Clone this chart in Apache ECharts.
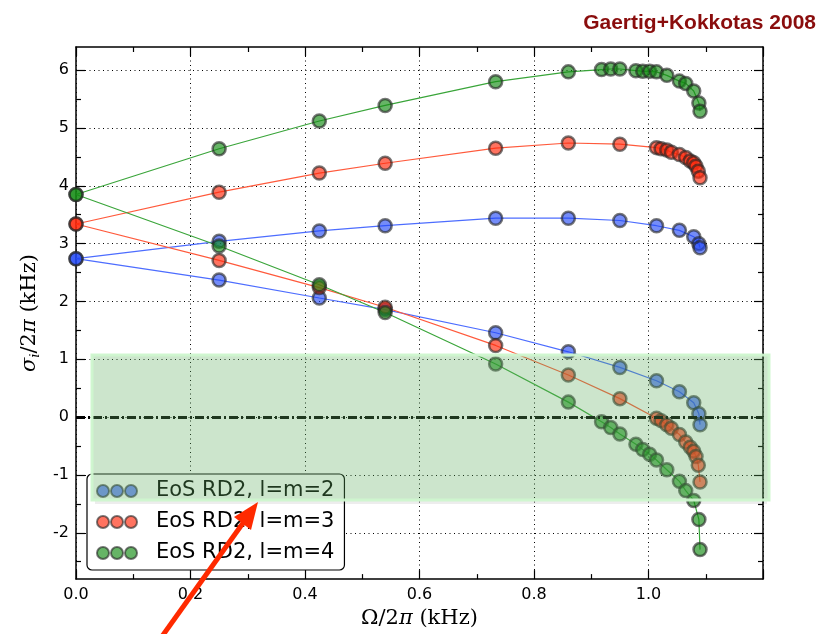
<!DOCTYPE html>
<html>
<head>
<meta charset="utf-8">
<script src="https://cdn.jsdelivr.net/npm/echarts@6/dist/echarts.min.js"></script>
<style>html,body{margin:0;padding:0;background:#fff;}#c{width:838px;height:634px;}</style>
</head>
<body>
<div id="c"></div>
<script>
// ---- data ----
const seriesNames = ['EoS RD2, l=m=2', 'EoS RD2, l=m=3', 'EoS RD2, l=m=4'];

const blueX     = [0, 0.25, 0.425, 0.54, 0.733, 0.86, 0.95, 1.014, 1.054, 1.079, 1.088, 1.09];
const blueUpper = [2.74, 3.04, 3.22, 3.31, 3.44, 3.44, 3.40, 3.31, 3.23, 3.12, 3.00, 2.93];
const blueLower = [2.74, 2.37, 2.06, 1.86, 1.46, 1.13, 0.86, 0.63, 0.44, 0.25, 0.06, -0.13];

const redX     = [0, 0.25, 0.425, 0.54, 0.733, 0.86, 0.95, 1.014, 1.022, 1.032, 1.04, 1.054, 1.065, 1.073, 1.079, 1.083, 1.087, 1.09];
const redUpper = [3.34, 3.89, 4.22, 4.39, 4.65, 4.74, 4.72, 4.66, 4.64, 4.62, 4.58, 4.54, 4.49, 4.43, 4.40, 4.34, 4.25, 4.14];
const redLower = [3.34, 2.71, 2.24, 1.90, 1.24, 0.73, 0.32, -0.02, -0.06, -0.13, -0.19, -0.30, -0.43, -0.52, -0.59, -0.68, -0.83, -1.12];

const greenX     = [0, 0.25, 0.425, 0.54, 0.733, 0.86, 0.918, 0.934, 0.95, 0.978, 0.99, 1.002, 1.014, 1.032, 1.054, 1.065, 1.079, 1.088, 1.09];
const greenUpper = [3.85, 4.64, 5.12, 5.39, 5.80, 5.97, 6.01, 6.02, 6.02, 5.99, 5.98, 5.98, 5.97, 5.91, 5.81, 5.77, 5.64, 5.43, 5.29];
const greenLower = [3.85, 2.96, 2.29, 1.81, 0.92, 0.26, -0.08, -0.18, -0.29, -0.47, -0.56, -0.64, -0.74, -0.91, -1.11, -1.27, -1.44, -1.77, -2.29];

const yMajorTicks = [-2, -1, 0, 1, 2, 3, 4, 5, 6];
const yMinorTicks = [-2.5, -1.5, -0.5, 0.5, 1.5, 2.5, 3.5, 4.5, 5.5];
const zeroLine = [0];

// ---- styling ----
const lineColors = ['#4d6dff', '#ff5a3c', '#3aa53a'];
const fillColors = ['rgba(30,70,245,0.62)', 'rgba(255,40,10,0.65)', 'rgba(20,140,20,0.65)'];
const edgeColor = 'rgba(35,35,35,0.62)';

const zip = (xs, ys) => xs.map((x, i) => [x, ys[i]]);
const branches = [
  [0, blueX, blueUpper], [0, blueX, blueLower],
  [1, redX, redUpper], [1, redX, redLower],
  [2, greenX, greenUpper], [2, greenX, greenLower]
];

const series = branches.map(([k, xs, ys]) => ({
  type: 'line',
  name: seriesNames[k],
  data: zip(xs, ys),
  symbol: 'circle',
  symbolSize: 13,
  lineStyle: { color: lineColors[k], width: 1.2 },
  itemStyle: { color: fillColors[k], borderColor: edgeColor, borderWidth: 2.5 },
  emphasis: { disabled: true },
  z: 3
}));

series.unshift({
  type: 'line',
  name: 'zero',
  data: [],
  silent: true,
  z: 2,
  markLine: {
    silent: true,
    symbol: ['none', 'none'],
    label: { show: false },
    lineStyle: { color: '#000', width: 3, type: [9, 3, 2, 3] },
    data: zeroLine.map(v => ({ yAxis: v }))
  }
});

const axisLineStyle = { onZero: false, lineStyle: { color: '#000', width: 1.5 } };
const noLine = { show: false, onZero: false };
const gridDots = { show: true, lineStyle: { color: '#000', width: 1, type: [1, 3.5] } };
const majorTick = { inside: true, length: 9, lineStyle: { color: '#000', width: 1.2 } };
const minorTick = { show: true, splitNumber: 2, length: 5, lineStyle: { color: '#000', width: 1.2 } };

const xBase = { type: 'value', min: 0, max: 1.2, interval: 0.2, gridIndex: 0 };
const yBase = { type: 'value', min: -2.8, max: 6.4, gridIndex: 0 };

const iconPath = 'path://M0,6a6,6 0 1,0 12,0a6,6 0 1,0 -12,0zM14,6a6,6 0 1,0 12,0a6,6 0 1,0 -12,0zM28,6a6,6 0 1,0 12,0a6,6 0 1,0 -12,0z';

const chart = echarts.init(document.getElementById('c'), null, { renderer: 'canvas' });
chart.setOption({
  animation: false,
  backgroundColor: '#fff',
  title: {
    text: 'Gaertig+Kokkotas 2008',
    right: 17, top: 8,
    textStyle: { fontFamily: 'Liberation Sans', fontWeight: 'bold', fontSize: 21, color: '#8a0d0d' }
  },
  grid: { left: 76, top: 47, width: 687, height: 535, containLabel: false },
  legend: {
    data: seriesNames,
    orient: 'vertical',
    left: 87, top: 474,
    padding: [6, 10, 6, 9],
    itemGap: 9,
    itemWidth: 40, itemHeight: 12,
    icon: iconPath,
    backgroundColor: '#fff',
    borderColor: '#000', borderWidth: 1.2, borderRadius: 5,
    textStyle: { fontFamily: 'DejaVu Sans', fontSize: 21, color: '#000', lineHeight: 22, padding: [0, 0, 0, 14] },
    selectedMode: false
  },
  xAxis: [
    Object.assign({}, xBase, {
      position: 'bottom',
      axisLine: axisLineStyle,
      axisTick: majorTick,
      minorTick: minorTick,
      splitLine: gridDots,
      axisLabel: { margin: 8, color: '#000', fontFamily: 'DejaVu Sans', fontSize: 16,
        formatter: v => (v > 1.1 ? '' : v.toFixed(1)) },
      name: '{n|Ω/2}{it|π}{n| (kHz)}',
      nameLocation: 'middle', nameGap: 26,
      nameTextStyle: { rich: {
        n: { fontFamily: 'DejaVu Serif', fontSize: 21, color: '#000' },
        it: { fontFamily: 'DejaVu Serif', fontStyle: 'italic', fontSize: 21, color: '#000' }
      } }
    }),
    Object.assign({}, xBase, {
      position: 'top',
      axisLine: axisLineStyle,
      axisTick: majorTick,
      minorTick: minorTick,
      splitLine: { show: false },
      axisLabel: { show: false }
    })
  ],
  yAxis: [
    Object.assign({}, yBase, {
      position: 'left',
      axisLine: axisLineStyle,
      axisTick: Object.assign({}, majorTick, { customValues: yMajorTicks }),
      splitLine: gridDots,
      axisLabel: { margin: 7, color: '#000', fontFamily: 'DejaVu Sans', fontSize: 16,
        customValues: yMajorTicks, formatter: v => String(Math.round(v)) },
      name: '{it|σ}{sub|i}{n|/2}{it|π}{n| (kHz)}',
      nameLocation: 'middle', nameGap: 28, nameRotate: 90,
      nameTextStyle: { rich: {
        n: { fontFamily: 'DejaVu Serif', fontSize: 21, color: '#000', lineHeight: 26 },
        it: { fontFamily: 'DejaVu Serif', fontStyle: 'italic', fontSize: 21, color: '#000', lineHeight: 26 },
        sub: { fontFamily: 'DejaVu Serif', fontStyle: 'italic', fontSize: 13, color: '#000', lineHeight: 26, padding: [12, 0, 0, 0] }
      } }
    }),
    Object.assign({}, yBase, {
      position: 'left',
      axisLine: noLine,
      axisTick: Object.assign({}, majorTick, { length: 5, customValues: yMinorTicks }),
      splitLine: { show: false },
      axisLabel: { show: false }
    }),
    Object.assign({}, yBase, {
      position: 'right',
      axisLine: axisLineStyle,
      axisTick: Object.assign({}, majorTick, { customValues: yMajorTicks }),
      splitLine: { show: false },
      axisLabel: { show: false }
    }),
    Object.assign({}, yBase, {
      position: 'right',
      axisLine: noLine,
      axisTick: Object.assign({}, majorTick, { length: 5, customValues: yMinorTicks }),
      splitLine: { show: false },
      axisLabel: { show: false }
    })
  ],
  series: series,
  graphic: {
    elements: [
      {
        type: 'rect', z: 100, silent: true,
        shape: { x: 92, y: 355, width: 677, height: 145 },
        style: { fill: 'rgba(95,175,95,0.32)', stroke: 'rgba(205,245,205,0.95)', lineWidth: 3 }
      },
      {
        type: 'rect', z: 99, silent: true,
        shape: { x: 95, y: 501, width: 672, height: 3 },
        style: { fill: 'rgba(0,0,0,0.07)' }
      },
      {
        type: 'line', z: 101, silent: true,
        shape: { x1: 158, y1: 642, x2: 248, y2: 516 },
        style: { stroke: '#ff2a00', lineWidth: 5 }
      },
      {
        type: 'polygon', z: 101, silent: true,
        shape: { points: [[258, 502], [251, 530], [234, 517]] },
        style: { fill: '#ff2a00' }
      }
    ]
  }
});
</script>
</body>
</html>
